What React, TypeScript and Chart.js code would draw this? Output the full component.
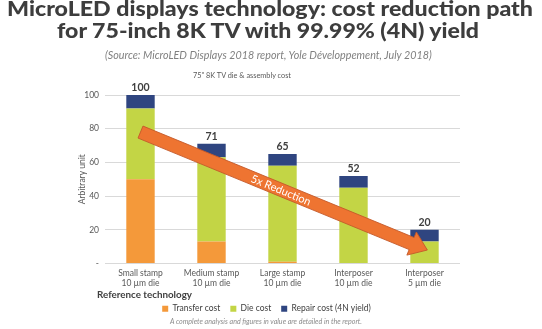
import React, { useEffect, useLayoutEffect, useRef } from 'react';
import { Chart, registerables } from 'chart.js';

Chart.register(...registerables);

const categories = [
  ['Small stamp', '10 µm die'],
  ['Medium stamp', '10 µm die'],
  ['Large stamp', '10 µm die'],
  ['Interposer', '10 µm die'],
  ['Interposer', '5 µm die'],
];
const transferCost = [50, 13, 1, 0, 0];
const dieCost = [42, 50, 57, 45, 13];
const repairCost = [8, 8, 7, 7, 7];
const seriesNames = ['Transfer cost', 'Die cost', 'Repair cost (4N yield)'];
const yMin = 0;
const yMax = 100;
const yStep = 20;
const arrowFrom = { x: 0, y: 78 };
const arrowTo = { x: 4.04, y: 8 };
const arrowText = '5x Reduction';

const FONT = 'Lato, "Open Sans", sans-serif';

const totalsPlugin = {
  id: 'totals',
  afterDatasetsDraw(chart: any) {
    const { ctx, scales } = chart;
    const xs = scales.x;
    const ys = scales.y;
    ctx.save();
    ctx.font = `bold 10.5px ${FONT}`;
    ctx.fillStyle = '#404040';
    ctx.textAlign = 'center';
    ctx.textBaseline = 'bottom';
    categories.forEach((_, i) => {
      const total = transferCost[i] + dieCost[i] + repairCost[i];
      const x = xs.getPixelForValue(i);
      const y = ys.getPixelForValue(total);
      ctx.fillText(String(total), x, y - 2);
    });
    ctx.restore();
  },
};

const arrowPlugin = {
  id: 'arrow',
  afterDatasetsDraw(chart: any) {
    const { ctx, scales } = chart;
    const xs = scales.x;
    const ys = scales.y;
    const x0 = xs.getPixelForValue(arrowFrom.x);
    const y0 = ys.getPixelForValue(arrowFrom.y);
    const x1 = xs.getPixelForValue(arrowTo.x);
    const y1 = ys.getPixelForValue(arrowTo.y);
    const dx = x1 - x0;
    const dy = y1 - y0;
    const L = Math.sqrt(dx * dx + dy * dy);
    const ang = Math.atan2(dy, dx);
    const w = 13;
    const hw = 25;
    const hl = 17;
    ctx.save();
    ctx.translate(x0, y0);
    ctx.rotate(ang);
    ctx.beginPath();
    ctx.moveTo(0, -w / 2);
    ctx.lineTo(L - hl, -w / 2);
    ctx.lineTo(L - hl, -hw / 2);
    ctx.lineTo(L, 0);
    ctx.lineTo(L - hl, hw / 2);
    ctx.lineTo(L - hl, w / 2);
    ctx.lineTo(0, w / 2);
    ctx.closePath();
    ctx.fillStyle = '#EE7431';
    ctx.fill();
    ctx.strokeStyle = '#C4592A';
    ctx.lineWidth = 0.8;
    ctx.stroke();
    ctx.fillStyle = '#ffffff';
    ctx.font = `11px ${FONT}`;
    ctx.textAlign = 'center';
    ctx.textBaseline = 'middle';
    ctx.fillText(arrowText, L * 0.49, 0.5);
    ctx.restore();
  },
};

function FitText(props: {
  text: string;
  cx?: number;
  left?: number;
  top: number;
  width: number;
  style: React.CSSProperties;
}) {
  const ref = useRef<HTMLSpanElement | null>(null);
  useLayoutEffect(() => {
    const el = ref.current;
    if (!el) return;
    el.style.transform = 'none';
    const w = el.getBoundingClientRect().width;
    if (w > 0) {
      const l = props.left !== undefined ? props.left : (props.cx as number) - props.width / 2;
      el.style.left = `${l}px`;
      el.style.transform = `scaleX(${props.width / w})`;
    }
  });
  return (
    <span
      ref={ref}
      style={{
        position: 'absolute',
        top: props.top,
        left: 0,
        whiteSpace: 'nowrap',
        transformOrigin: '0 0',
        pointerEvents: 'none',
        display: 'inline-block',
        ...props.style,
      }}
    >
      {props.text}
    </span>
  );
}

export default function App() {
  const canvasRef = useRef<HTMLCanvasElement | null>(null);

  useEffect(() => {
    if (!canvasRef.current) return;
    const chart = new Chart(canvasRef.current, {
      type: 'bar',
      data: {
        labels: categories,
        datasets: [
          { label: seriesNames[0], data: transferCost, backgroundColor: '#F4993A' },
          { label: seriesNames[1], data: dieCost, backgroundColor: '#C3D545' },
          { label: seriesNames[2], data: repairCost, backgroundColor: '#2F4580' },
        ],
      },
      options: {
        animation: false,
        responsive: true,
        maintainAspectRatio: false,
        datasets: { bar: { categoryPercentage: 1, barPercentage: 0.4 } },
        layout: { padding: { top: 95, right: 82, left: 73, bottom: 6 } },
        plugins: {
          tooltip: { enabled: false },
          title: { display: false },
          legend: {
            position: 'bottom',
            labels: {
              boxWidth: 6,
              boxHeight: 6,
              padding: 10,
              color: '#404040',
              font: { family: FONT, size: 8.5 },
            },
          },
        },
        scales: {
          x: {
            stacked: true,
            grid: { display: false, drawTicks: false },
            border: { display: false },
            ticks: {
              color: '#595959',
              padding: 5,
              font: { family: FONT, size: 8.5, lineHeight: 1.15 },
              maxRotation: 0,
              autoSkip: false,
            },
            afterFit: (s: any) => {
              s.height = 31;
            },
          },
          y: {
            stacked: true,
            min: yMin,
            max: yMax,
            grid: { color: '#D9D9D9', drawTicks: false, lineWidth: 1 },
            border: { display: false },
            ticks: {
              stepSize: yStep,
              padding: 6,
              color: '#595959',
              font: { family: FONT, size: 8.5 },
              callback: (v: any) => (v === 0 ? '-' : String(v)),
            },
            title: {
              display: true,
              text: 'Arbitrary unit',
              color: '#595959',
              font: { family: FONT, size: 8.5 },
            },
            afterFit: (s: any) => {
              s.width = 32;
            },
          },
        },
      },
      plugins: [totalsPlugin, arrowPlugin],
    } as any);
    return () => chart.destroy();
  }, []);

  const titleStyle: React.CSSProperties = {
    fontSize: 20,
    fontWeight: 900,
    lineHeight: '22px',
    color: '#3d3d3d',
  };

  return (
    <div
      style={{
        position: 'absolute',
        left: 0,
        top: 0,
        width: 542,
        height: 329,
        background: '#ffffff',
        fontFamily: FONT,
        overflow: 'hidden',
      }}
    >
      <canvas ref={canvasRef} style={{ position: 'absolute', left: 0, top: 0, width: 542, height: 329 }} />
      <FitText
        text="MicroLED displays technology: cost reduction path"
        cx={269.7}
        top={-3.5}
        width={526}
        style={titleStyle}
      />
      <FitText
        text="for 75-inch 8K TV with 99.99% (4N) yield"
        cx={268.3}
        top={18.5}
        width={422}
        style={titleStyle}
      />
      <FitText
        text="(Source: MicroLED Displays 2018 report, Yole Développement, July 2018)"
        cx={268.3}
        top={48.5}
        width={326.7}
        style={{ fontSize: 10.5, fontStyle: 'italic', fontWeight: 400, lineHeight: '12px', color: '#808080' }}
      />
      <FitText
        text={'75" 8K TV die & assembly cost'}
        cx={242}
        top={70}
        width={98}
        style={{ fontSize: 8, lineHeight: '10px', color: '#595959' }}
      />
      <FitText
        text="Reference technology"
        left={96.7}
        top={288.5}
        width={95}
        style={{ fontSize: 9.5, fontWeight: 700, lineHeight: '11px', color: '#404040' }}
      />
      <FitText
        text="A complete analysis and figures in value are detailed in the report."
        cx={265.5}
        top={317}
        width={192}
        style={{ fontSize: 7, fontStyle: 'italic', fontWeight: 400, lineHeight: '9px', color: '#8c8c8c' }}
      />
    </div>
  );
}
